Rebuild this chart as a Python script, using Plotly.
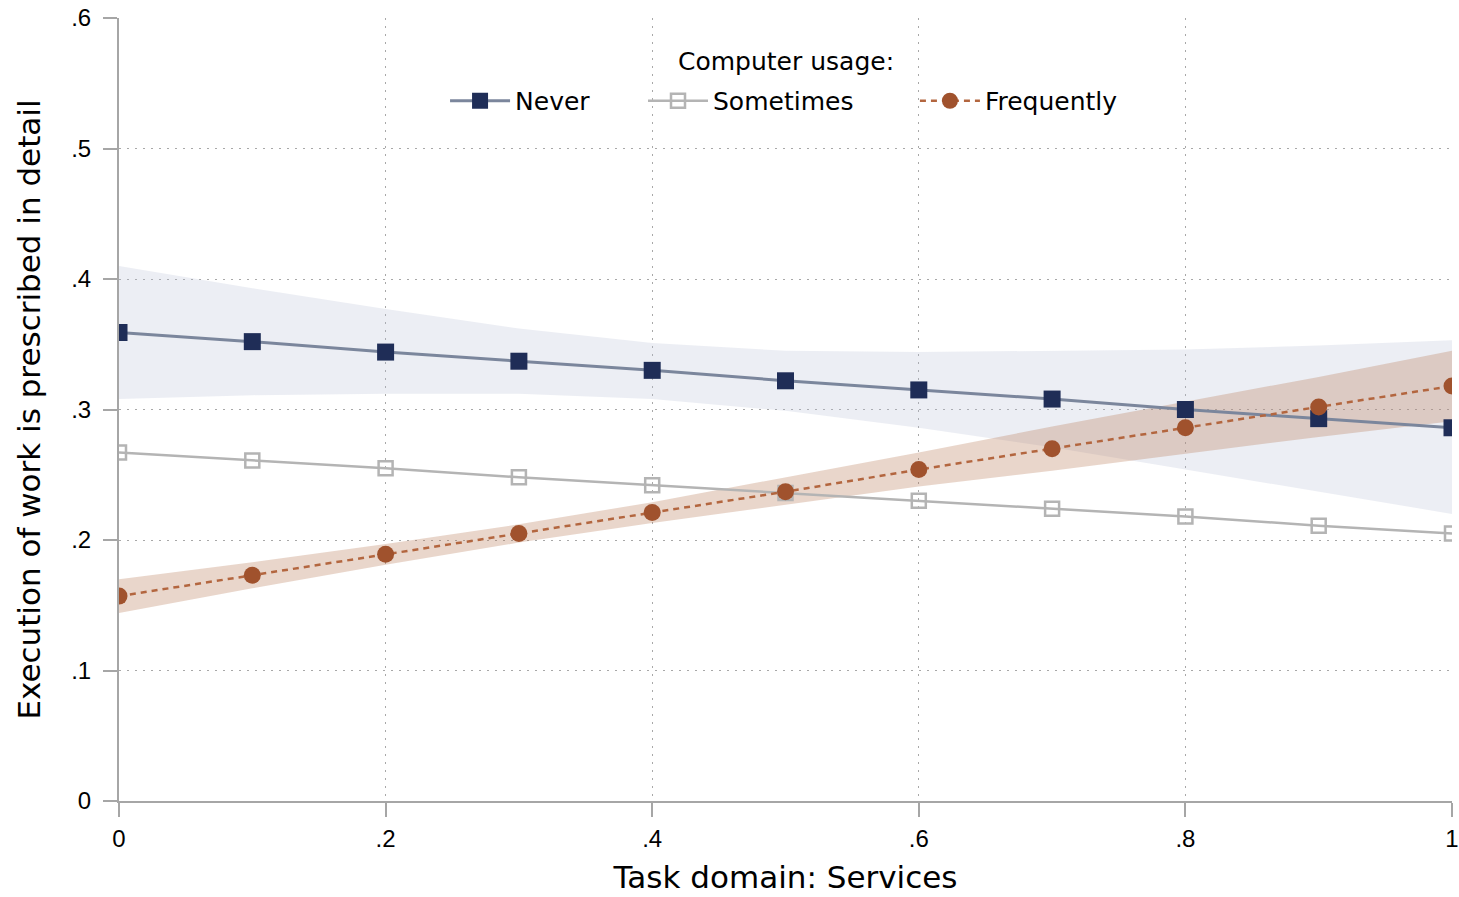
import plotly.graph_objects as go

# Task-domain share (x) and predicted probabilities by computer usage
x_vals = [0.0, 0.1, 0.2, 0.3, 0.4, 0.5, 0.6, 0.7, 0.8, 0.9, 1.0]

never = [0.359, 0.352, 0.344, 0.337, 0.330, 0.322, 0.315, 0.308, 0.300, 0.293, 0.286]
never_lo = [0.308, 0.311, 0.312, 0.312, 0.308, 0.299, 0.286, 0.271, 0.254, 0.237, 0.220]
never_hi = [0.410, 0.393, 0.377, 0.362, 0.351, 0.345, 0.344, 0.345, 0.346, 0.349, 0.353]

sometimes = [0.267, 0.261, 0.255, 0.248, 0.242, 0.236, 0.230, 0.224, 0.218, 0.211, 0.205]

frequently = [0.157, 0.173, 0.189, 0.205, 0.221, 0.237, 0.254, 0.270, 0.286, 0.302, 0.318]
freq_lo = [0.144, 0.163, 0.181, 0.198, 0.213, 0.227, 0.241, 0.253, 0.266, 0.279, 0.291]
freq_hi = [0.170, 0.183, 0.197, 0.212, 0.229, 0.248, 0.267, 0.287, 0.306, 0.325, 0.345]

x_ticks = [0, 0.2, 0.4, 0.6, 0.8, 1]
x_tick_labels = ["0", ".2", ".4", ".6", ".8", "1"]
y_ticks = [0, 0.1, 0.2, 0.3, 0.4, 0.5, 0.6]
y_tick_labels = ["0", ".1", ".2", ".3", ".4", ".5", ".6"]

NAVY = "#1f2d57"
NAVY_LINE = "#7b869c"
GRAY = "#b4b4b4"
SIENNA = "#a0522d"
SIENNA_LINE = "#b3663f"
TICK_FONT = "Liberation Sans, Arial, sans-serif"
TEXT_FONT = "DejaVu Sans, sans-serif"

fig = go.Figure()


def band(lo, hi, color):
    fig.add_trace(go.Scatter(x=x_vals, y=lo, mode="lines", line=dict(width=0),
                             showlegend=False, hoverinfo="skip"))
    fig.add_trace(go.Scatter(x=x_vals, y=hi, mode="lines", line=dict(width=0),
                             fill="tonexty", fillcolor=color,
                             showlegend=False, hoverinfo="skip"))


band(never_lo, never_hi, "rgba(180,188,210,0.25)")
band(freq_lo, freq_hi, "rgba(182,118,82,0.30)")

fig.add_trace(go.Scatter(
    x=x_vals, y=never, name="Never", mode="lines+markers", legend="legend",
    line=dict(color=NAVY_LINE, width=3),
    marker=dict(symbol="square", size=17, color=NAVY),
))
fig.add_trace(go.Scatter(
    x=x_vals, y=sometimes, name="Sometimes", mode="lines+markers", legend="legend2",
    line=dict(color=GRAY, width=2.5),
    marker=dict(symbol="square-open", size=14, color=GRAY, line=dict(width=2.5, color=GRAY)),
))
fig.add_trace(go.Scatter(
    x=x_vals, y=frequently, name="Frequently", mode="lines+markers", legend="legend3",
    line=dict(color=SIENNA_LINE, width=2.5, dash="6px,5px"),
    marker=dict(symbol="circle", size=17, color=SIENNA),
))

axis_common = dict(
    showline=True, linecolor="#a6a6a6", linewidth=2,
    ticks="outside", ticklen=14, tickwidth=2, tickcolor="#a6a6a6",
    showgrid=True, gridcolor="#a8a8a8", gridwidth=1.3, griddash="2px,6px",
    zeroline=False, automargin=False,
    tickfont=dict(family=TICK_FONT, size=24, color="#000"),
)

fig.update_xaxes(
    range=[0, 1], tickvals=x_ticks, ticktext=x_tick_labels, ticklabelstandoff=1,
    title=dict(text="Task domain: Services", font=dict(family=TEXT_FONT, size=31, color="#000"), standoff=16),
    **axis_common,
)
fig.update_yaxes(
    range=[0, 0.6], tickvals=y_ticks, ticktext=y_tick_labels, ticklabelstandoff=7,
    title=dict(text="Execution of work is prescribed in detail", font=dict(family=TEXT_FONT, size=31, color="#000"), standoff=21),
    **axis_common,
)

legend_style = dict(
    orientation="h", xanchor="left", y=0.894, yanchor="middle", itemwidth=60,
    bgcolor="rgba(0,0,0,0)", font=dict(family=TEXT_FONT, size=25, color="#000"),
)

fig.update_layout(
    width=1459, height=897,
    margin=dict(l=119, r=7, t=18, b=96),
    plot_bgcolor="white", paper_bgcolor="white",
    font=dict(family=TEXT_FONT, color="#000"),
    legend=dict(x=0.2446, **legend_style),
    legend2=dict(x=0.3931, **legend_style),
    legend3=dict(x=0.5971, **legend_style),
    annotations=[dict(
        text="Computer usage:", xref="paper", yref="paper", x=0.5, y=0.945,
        xanchor="center", yanchor="middle", showarrow=False,
        font=dict(family=TEXT_FONT, size=25, color="#000"),
    )],
)

fig.write_html("out.html")
